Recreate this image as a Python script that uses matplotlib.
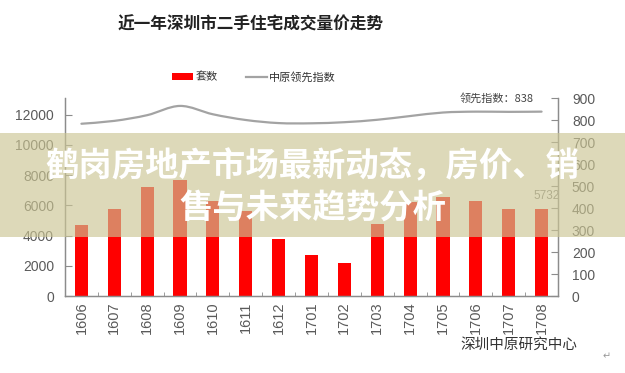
import numpy as np
import matplotlib
matplotlib.use("Agg")
import matplotlib.pyplot as plt
from matplotlib.path import Path
from matplotlib.patches import PathPatch, Rectangle, Patch
from matplotlib.lines import Line2D

plt.rcParams['font.family'] = ['Noto Sans CJK SC', 'DejaVu Sans']

# data
months = ['1606', '1607', '1608', '1609', '1610', '1611', '1612', '1701',
          '1702', '1703', '1704', '1705', '1706', '1707', '1708']
deals = [4710, 5770, 7180, 7690, 6300, 5640, 3780, 2720,
         2190, 4780, 6200, 6520, 6300, 5770, 5732]
index_vals = [783, 796, 822, 864, 826, 800, 786, 785,
              790, 801, 818, 834, 838, 837, 838]

bar_red = '#ff0000'
line_gray = '#a3a3a3'
spine_gray = '#8c8c8c'
tick_txt = '#5a5a5a'

fig = plt.figure(figsize=(6.25, 3.73), dpi=100)
ax = fig.add_axes([65/625, 1 - 296/373, 493/625, 198/373])
ax2 = ax.twinx()

x = np.arange(len(months))
ax.bar(x, deals, width=0.4, color=bar_red, zorder=2)
ax.set_xlim(-0.5, len(months) - 0.5)
ax.set_ylim(0, 13100)
ax.set_yticks(range(0, 12001, 2000))
ax.set_xticks(x)
ax.set_xticklabels(months, rotation=90, family='Liberation Sans',
                   fontsize=10.5, color=tick_txt)
ax.set_xticks(np.arange(0.5, len(months) - 1, 1), minor=True)
ax.tick_params(axis='x', which='major', length=0, pad=4)
ax.tick_params(axis='x', which='minor', length=3, direction='in', color=spine_gray)
ax.tick_params(axis='y', direction='in', length=5, color=spine_gray, pad=8,
               labelsize=10, labelcolor=tick_txt)
for lab in ax.get_yticklabels():
    lab.set_family('Liberation Sans')

# smoothed index line (Catmull-Rom as cubic Bezier in data coords)
pts = np.column_stack([x, index_vals]).astype(float)
verts = [tuple(pts[0])]
codes = [Path.MOVETO]
n = len(pts)
for i in range(n - 1):
    p0 = pts[max(i - 1, 0)]
    p1 = pts[i]
    p2 = pts[i + 1]
    p3 = pts[min(i + 2, n - 1)]
    c1 = p1 + (p2 - p0) / 6.0
    c2 = p2 - (p3 - p1) / 6.0
    verts += [tuple(c1), tuple(c2), tuple(p2)]
    codes += [Path.CURVE4] * 3
ax2.add_patch(PathPatch(Path(verts, codes), fill=False, edgecolor=line_gray,
                        linewidth=1.6, capstyle='round'))
ax2.set_ylim(0, 900)
ax2.set_yticks(range(0, 901, 100))
ax2.tick_params(axis='y', direction='in', length=5, color=spine_gray, pad=10,
                labelsize=10, labelcolor=tick_txt)
for lab in ax2.get_yticklabels():
    lab.set_family('Liberation Sans')

for a in (ax, ax2):
    a.spines['top'].set_visible(False)
    for s in ('left', 'right', 'bottom'):
        a.spines[s].set_color(spine_gray)
        a.spines[s].set_linewidth(0.9)

# annotations
ax2.text(len(months) - 1.25, 900, '领先指数：' + str(index_vals[-1]), ha='right',
         va='center', fontsize=8, color='#444444')
ax.text(len(months) - 0.45, deals[-1] + 900, str(deals[-1]), ha='right',
        va='center', fontsize=8.5, color='#808080', family='Liberation Sans')

fig.text(251/625, 1 - 24/373, '近一年深圳市二手住宅成交量价走势', ha='center',
         va='center', fontsize=12, fontweight='bold', color='#222222')

handles = [Patch(facecolor=bar_red, edgecolor='none'),
           Line2D([], [], color=line_gray, lw=1.6)]
fig.legend(handles, ['套数', '中原领先指数'], loc='center',
           bbox_to_anchor=(254/625, 1 - 77/373), ncol=2, frameon=False,
           fontsize=8, handlelength=1.9, handletextpad=0.2, columnspacing=2.5,
           labelcolor='#333333')

fig.text(519/625, 1 - 345/373, '深圳中原研究中心', ha='center', va='center',
         fontsize=10.5, color='#333333')
fig.text(607/625, 1 - 356/373, '↵', ha='center', va='center', fontsize=7,
         color='#999999', family='DejaVu Sans')

# translucent banner with headline
fig.patches.append(Rectangle((0, 1 - 237/373), 1, 104/373, transform=fig.transFigure,
                             facecolor=(204/255, 198/255, 148/255), alpha=0.65,
                             edgecolor='none', zorder=10))
fig.text(0.5, 1 - 167/373, '鹤岗房地产市场最新动态，房价、销', ha='center',
         va='center', fontsize=24, fontweight='heavy', color='white', zorder=11)
fig.text(0.5, 1 - 208/373, '售与未来趋势分析', ha='center', va='center',
         fontsize=24, fontweight='heavy', color='white', zorder=11)

fig.savefig('out.png', dpi=100)
